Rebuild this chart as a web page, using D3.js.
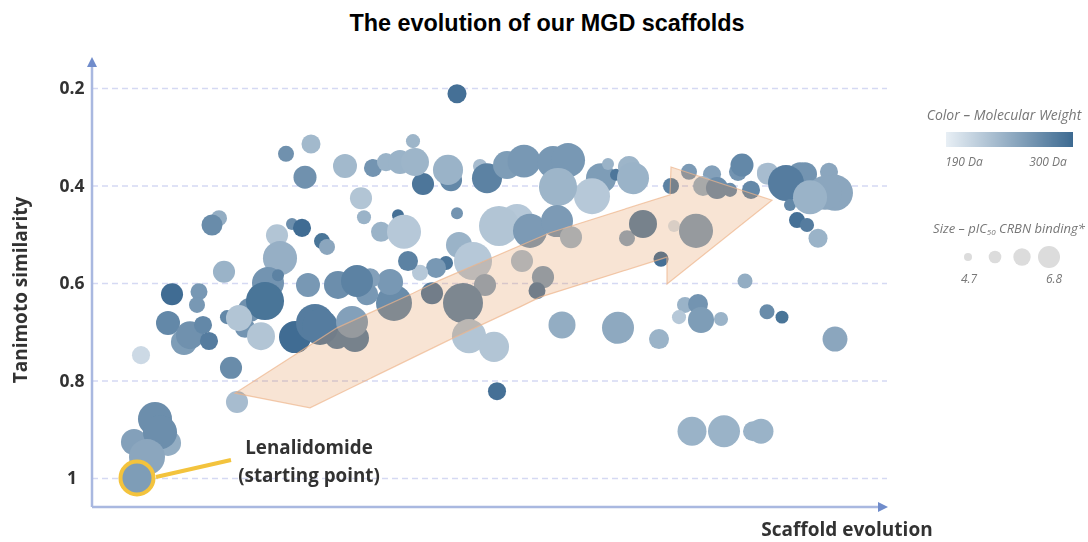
<!DOCTYPE html>
<html>
<head>
<meta charset="utf-8">
<script src="https://cdn.jsdelivr.net/npm/d3@7"></script>
<style>
  body { margin: 0; background: #fff; }
  text { font-family: "Open Sans", sans-serif; }
</style>
</head>
<body>
<div id="container"></div>
<script>
// each row: scaffold position, tanimoto similarity, molecular weight (Da), pIC50
var upperLeft = [
  [219,.315,235,5.39],[194,.335,268,5.2],[213,.383,268,5.64],[253,.360,235,5.7],
  [127,.467,245,5.2],[120,.481,272,5.51],[269,.426,225,5.58],[272,.465,240,5.08],
  [306,.461,295,4.95],[289,.495,240,5.45],[312,.495,222,6.33],[200,.479,270,4.95],
  [210,.487,298,5.33],[185,.502,225,5.58],[230,.514,292,5.2],[235,.526,250,5.2]
];
var topRow = [
  [281,.364,265,5.33],[321,.309,238,5.08],[359,.389,275,5.58],[331,.397,290,5.58],
  [294,.352,240,5.33],[308,.352,240,5.7],[323,.352,238,5.95],[356,.368,240,6.08],
  [388,.360,232,5.08],[395,.385,280,6.08],[415,.358,258,5.95],[432,.350,262,6.26],
  [461,.352,262,6.2],[476,.348,262,6.33],[509,.385,258,6.08],[516,.356,240,4.95],
  [524,.378,290,4.95],[537,.362,238,5.58],[541,.385,240,6.2],[500,.422,222,6.45],
  [466,.403,238,6.58],[365,.457,265,4.95]
];
var middle = [
  [425,.473,222,6.33],[407,.483,225,6.7],[438,.493,260,6.33],[465,.473,260,6.2],
  [479,.506,235,5.58],[367,.522,240,5.83],[354,.559,290,5.08],[344,.569,262,5.45],
  [328,.579,222,5.2],[316,.555,280,5.45],[381,.555,222,6.58],[393,.604,250,5.58],
  [430,.555,230,5.58],[451,.588,255,5.58],[445,.616,285,5.26],[340,.621,285,5.58],
  [371,.641,275,6.7],[302,.641,272,6.45]
];
var clusterLeft = [
  [188,.549,243,6.33],[132,.577,240,5.58],[176,.600,265,6.2],[186,.584,280,4.95],
  [298,.598,262,5.83],[278,.590,255,5.45],[216,.604,262,5.7],[246,.604,270,5.95],
  [275,.623,262,5.58],[265,.596,280,6.2],[80,.623,298,5.58],[107,.618,262,5.26],
  [105,.645,262,5.2],[76,.682,275,5.7],[92,.721,258,5.83],[98,.707,268,5.95],
  [111,.686,275,5.33],[117,.719,285,5.33],[135,.670,275,5.08],[158,.655,268,5.7],
  [153,.692,265,5.45],[173,.637,292,6.58],[147,.672,225,5.83],[169,.709,225,5.95],
  [49,.748,208,5.33],[139,.774,272,5.58],[145,.844,232,5.58]
];
var arrowBand = [
  [203,.711,298,6.2],[245,.711,280,5.7],[263,.713,280,5.95],[223,.682,285,6.58],
  [228,.690,285,6.45],[260,.680,255,6.2],[377,.709,225,6.33],[402,.731,225,6.08],
  [405,.822,295,5.33]
];
var bottomLeft = [
  [42,.926,255,5.83],[76,.928,245,5.83],[63,.879,270,6.33],[68,.906,270,6.33],
  [55,.957,250,6.45]
];
var lenalidomide = [[45,1,258,6.14]];
var rightHalf = [
  [470,.686,245,5.89],[526,.692,248,6.2],[567,.715,240,5.45],[593,.645,240,5.2],
  [606,.643,265,5.45],[587,.670,222,5.08],[609,.676,258,5.83],[629,.674,240,5.08],
  [675,.659,272,5.14],[690,.670,292,5.01],[743,.715,250,5.76],[600,.904,240,6.01],
  [632,.904,240,6.2],[661,.904,240,5.45],[669,.904,240,5.76],[653,.596,245,5.14]
];
var arrowHead = [
  [535,.508,250,5.2],[551,.479,280,5.95],[582,.483,200,4.95],[604,.493,255,6.33],
  [569,.551,295,5.14],[579,.401,280,5.2],[597,.372,260,5.2],[620,.377,255,5.33],
  [611,.401,240,5.45],[625,.405,270,5.58],[638,.409,270,5.08],[646,.372,265,5.33],
  [650,.358,275,5.64],[659,.409,275,5.33],[672,.370,215,5.08],[676,.376,232,5.58]
];
var upperRight = [
  [713,.377,265,5.7],[708,.377,265,5.7],[694,.395,285,6.45],[698,.440,275,4.95],
  [737,.372,250,5.33],[743,.415,250,6.45],[733,.415,250,6.33],[718,.424,240,6.33],
  [705,.471,295,5.2],[715,.481,285,5.08],[726,.508,240,5.39]
];
var loneTop = [[365,.212,295,5.39]];

var yTicks = [0.2, 0.4, 0.6, 0.8, 1];
var legendSizes = [4.7, 5.4, 6.1, 6.8];
var mwRange = [190, 300];

// outline of the orange arrow, same units as the points
var arrowOutline = [
  [143,.826],[245,.692],[321,.621],[348,.594],[458,.497],[578,.419],[579,.362],
  [680,.430],[575,.602],[575,.547],[448,.629],[428,.649],[361,.713],[218,.856]
];

var points = [].concat(upperLeft, topRow, middle, clusterLeft, arrowBand,
  bottomLeft, lenalidomide, rightHalf, arrowHead, upperRight, loneTop);

var svg = d3.select("#container").append("svg")
  .attr("width", 1088)
  .attr("height", 542)
  .style("display", "block");

var defs = svg.append("defs");
defs.append("filter").attr("id", "soft")
  .attr("x", "-5%").attr("y", "-5%").attr("width", "110%").attr("height", "110%")
  .append("feGaussianBlur").attr("stdDeviation", 0.6);
defs.append("filter").attr("id", "softer")
  .attr("x", "-5%").attr("y", "-5%").attr("width", "110%").attr("height", "110%")
  .append("feGaussianBlur").attr("stdDeviation", 0.35);

var grad = defs.append("linearGradient").attr("id", "mw-gradient");
grad.append("stop").attr("offset", "0%").attr("stop-color", "#e8eff5");
grad.append("stop").attr("offset", "100%").attr("stop-color", "#3d6a91");

// Scales
var xScale = d3.scaleLinear().domain([0, 795]).range([92, 887]);
var yScale = d3.scaleLinear().domain([0.2, 1]).range([88, 478]);
var radiusScale = d3.scaleLinear().domain([4.7, 6.8]).range([4, 20.8]);
var colorScale = d3.scaleLinear().domain(mwRange).range(["#e8eff5", "#3d6a91"]);
var legendRadius = d3.scaleLinear().domain([4.7, 6.8]).range([4, 11]);
var legendX = d3.scaleLinear().domain([4.7, 6.8]).range([968, 1049]);

var chart = svg.append("g").attr("filter", "url(#softer)");

// Gridlines
chart.append("g")
  .attr("transform", "translate(92,0)")
  .call(d3.axisRight(yScale).tickValues(yTicks).tickSize(795).tickFormat(""))
  .call(function(g) { g.select(".domain").remove() })
  .selectAll("line")
  .attr("stroke", "#d5d9f3")
  .attr("stroke-width", 1.3)
  .attr("stroke-dasharray", "6 4");

// Y labels
chart.append("g")
  .attr("transform", "translate(92,0)")
  .call(d3.axisLeft(yScale).tickValues(yTicks).tickSize(0)
    .tickFormat(function(d) { return d === 1 ? "1" : d3.format(".1f")(d) }))
  .call(function(g) { g.select(".domain").remove() })
  .selectAll("text")
  .attr("x", -20)
  .attr("text-anchor", "middle")
  .attr("font-size", 17.5)
  .attr("font-weight", "bold")
  .attr("fill", "#333")
  .style("font-family", '"Open Sans", sans-serif');

// Points
var dots = svg.append("g").attr("filter", "url(#soft)");
dots.selectAll(".dot")
  .data(points)
  .enter().append("circle")
  .attr("class", "dot")
  .attr("cx", function(d) { return xScale(d[0]) })
  .attr("cy", function(d) { return yScale(d[1]) })
  .attr("r", function(d) { return radiusScale(d[3]) })
  .attr("fill", function(d) { return colorScale(d[2]) });

// Arrow on top of the points
var arrowLine = d3.line()
  .x(function(d) { return xScale(d[0]) })
  .y(function(d) { return yScale(d[1]) });

svg.append("path")
  .attr("d", arrowLine(arrowOutline) + "Z")
  .attr("fill", "rgb(221,128,52)")
  .attr("fill-opacity", 0.21)
  .attr("stroke", "#eeb58c")
  .attr("stroke-opacity", 0.7)
  .attr("stroke-width", 1.2)
  .attr("filter", "url(#softer)");

// Lenalidomide highlight
var lena = lenalidomide[0];
var notes = svg.append("g").attr("filter", "url(#softer)");
notes.append("circle")
  .attr("cx", xScale(lena[0]))
  .attr("cy", yScale(lena[1]))
  .attr("r", radiusScale(lena[3]) + 1)
  .attr("fill", "none")
  .attr("stroke", "#f3c33c")
  .attr("stroke-width", 4);
notes.append("line")
  .attr("x1", xScale(lena[0]) + 19).attr("y1", 477)
  .attr("x2", 231).attr("y2", 460)
  .attr("stroke", "#f3c33c")
  .attr("stroke-width", 4);
notes.append("text").text("Lenalidomide")
  .attr("x", 309).attr("y", 454)
  .attr("text-anchor", "middle")
  .attr("font-weight", "bold").attr("font-size", 18.8).attr("fill", "#333");
notes.append("text").text("(starting point)")
  .attr("x", 309).attr("y", 482)
  .attr("text-anchor", "middle")
  .attr("font-weight", "bold").attr("font-size", 18.8).attr("fill", "#333");

// Axes with arrow heads
var axes = svg.append("g").attr("filter", "url(#softer)");
axes.append("path")
  .attr("d", "M92,507V64M92,507H881")
  .attr("fill", "none")
  .attr("stroke", "#a9b8e0")
  .attr("stroke-width", 2.5);
axes.append("path").attr("d", "M92,57L87,67H97Z").attr("fill", "#6f8ccb");
axes.append("path").attr("d", "M888,507L878,502V512Z").attr("fill", "#6f8ccb");

axes.append("text").text("Tanimoto similarity")
  .attr("transform", "translate(27,290) rotate(-90)")
  .attr("text-anchor", "middle")
  .attr("font-weight", "bold").attr("font-size", 19).attr("fill", "#333");
axes.append("text").text("Scaffold evolution")
  .attr("x", 847).attr("y", 536)
  .attr("text-anchor", "middle")
  .attr("font-weight", "bold").attr("font-size", 19).attr("fill", "#333");

// Title
svg.append("text").text("The evolution of our MGD scaffolds")
  .attr("x", 547).attr("y", 31)
  .attr("text-anchor", "middle")
  .attr("font-weight", "bold")
  .attr("font-size", 23.4)
  .style("font-family", '"Liberation Sans", sans-serif');

// Legends
var legend = svg.append("g").attr("filter", "url(#soft)");
legend.append("text").text("Color – Molecular Weight")
  .attr("x", 1004).attr("y", 120)
  .attr("text-anchor", "middle")
  .attr("font-style", "italic").attr("font-size", 14).attr("fill", "#777");
legend.append("rect")
  .attr("x", 946).attr("y", 132).attr("width", 127).attr("height", 15)
  .attr("fill", "url(#mw-gradient)");
legend.append("text").text(mwRange[0] + " Da")
  .attr("x", 964).attr("y", 166)
  .attr("text-anchor", "middle")
  .attr("font-style", "italic").attr("font-size", 12).attr("fill", "#777");
legend.append("text").text(mwRange[1] + " Da")
  .attr("x", 1048).attr("y", 166)
  .attr("text-anchor", "middle")
  .attr("font-style", "italic").attr("font-size", 12).attr("fill", "#777");

var sizeTitle = legend.append("text")
  .attr("x", 1009).attr("y", 233)
  .attr("text-anchor", "middle")
  .attr("font-style", "italic").attr("font-size", 13).attr("fill", "#777");
sizeTitle.append("tspan").text("Size – pIC");
sizeTitle.append("tspan").text("50").attr("font-size", 8).attr("dy", 2);
sizeTitle.append("tspan").text(" CRBN binding*").attr("dy", -2);

legend.selectAll(".size-dot")
  .data(legendSizes)
  .enter().append("circle")
  .attr("class", "size-dot")
  .attr("cx", function(d) { return legendX(d) })
  .attr("cy", 257)
  .attr("r", function(d) { return legendRadius(d) })
  .attr("fill", "#dcdcdc");

legend.selectAll(".size-label")
  .data([legendSizes[0], legendSizes[3]])
  .enter().append("text")
  .attr("class", "size-label")
  .text(function(d) { return d })
  .attr("x", function(d) { return legendX(d) + (d > 5 ? 5 : 1) })
  .attr("y", 283)
  .attr("text-anchor", "middle")
  .attr("font-style", "italic").attr("font-size", 12).attr("fill", "#777");
</script>
</body>
</html>
